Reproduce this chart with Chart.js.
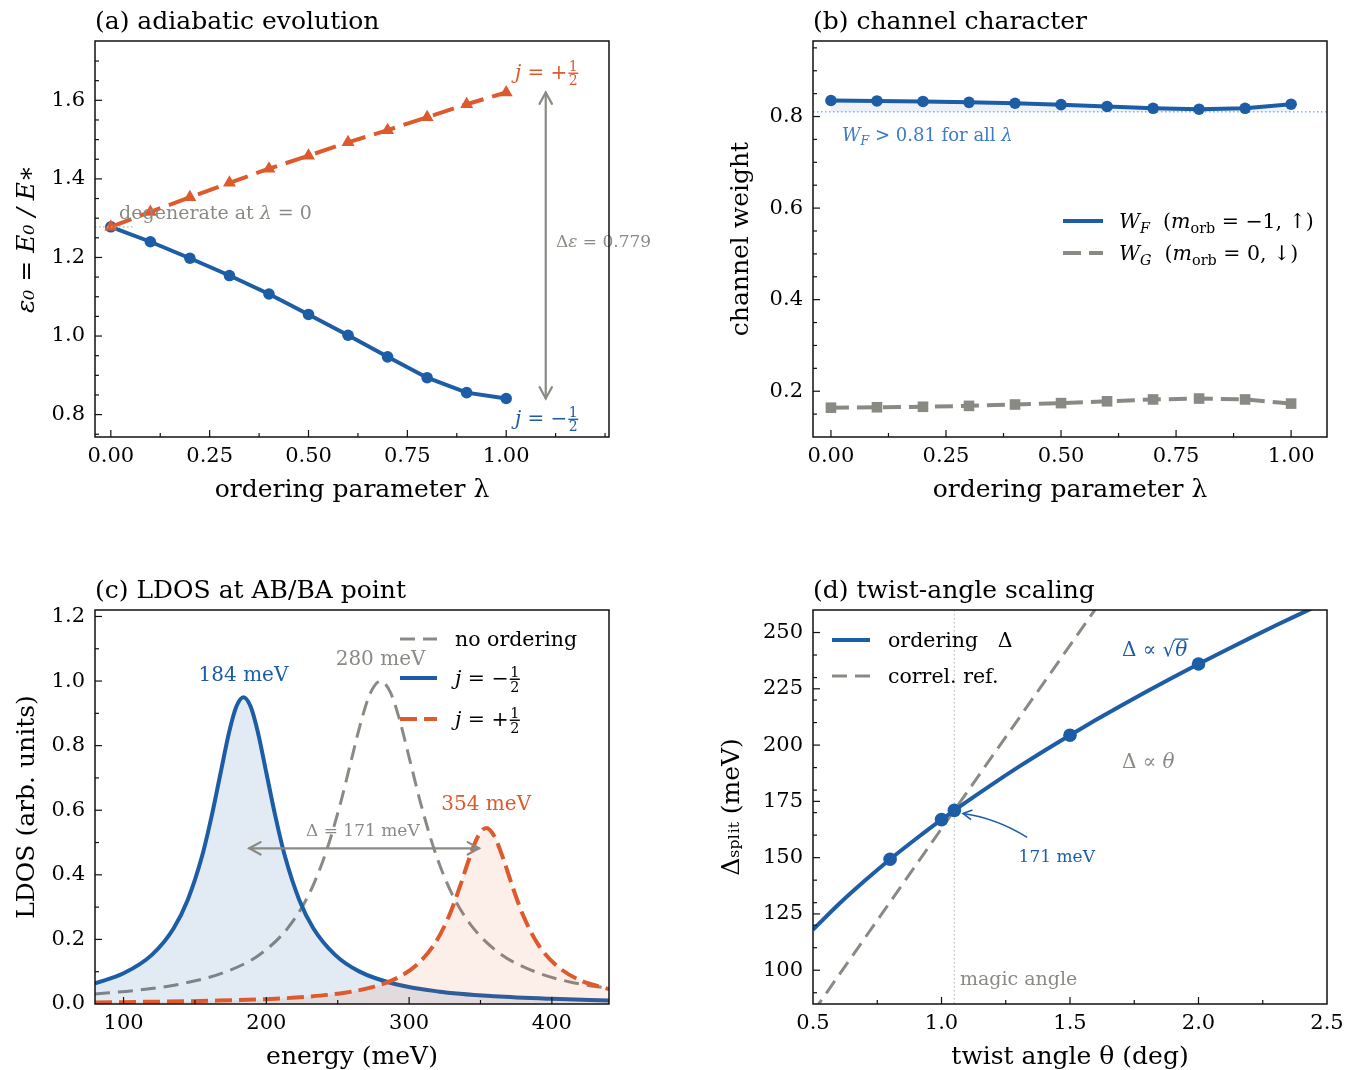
<!DOCTYPE html>
<html lang="en">
<head>
<meta charset="UTF-8">
<title>Ordering: adiabatic evolution, channel character, LDOS, twist-angle scaling</title>
<script src="https://cdn.jsdelivr.net/npm/chart.js@4"></script>
<style>
  html, body { margin: 0; padding: 0; background: #fff; }
  #fig { position: relative; width: 1358px; height: 1070px; }
  #fig canvas { position: absolute; }
</style>
</head>
<body>
<div id="fig">
  <canvas id="pa" width="679" height="535" style="left:0;top:0"></canvas>
  <canvas id="pb" width="679" height="535" style="left:679px;top:0"></canvas>
  <canvas id="pc" width="679" height="535" style="left:0;top:535px"></canvas>
  <canvas id="pd" width="679" height="535" style="left:679px;top:535px"></canvas>
</div>
<script>
const BLUE = '#1c5da6', ORANGE = '#de5a2c', GREY = '#8a8a85', LIGHTBLUE = '#3d7bc3';
const SERIF = '"DejaVu Serif", serif';

// (a) adiabatic evolution
const lam = [0, 0.1, 0.2, 0.3, 0.4, 0.5, 0.6, 0.7, 0.8, 0.9, 1.0];
const epsMinus = [1.278, 1.240, 1.198, 1.154, 1.107, 1.055, 1.002, 0.947, 0.894, 0.856, 0.841];
const epsPlus = [1.278, 1.316, 1.353, 1.390, 1.426, 1.459, 1.493, 1.524, 1.557, 1.590, 1.620];
const lamTicks = [0, 0.25, 0.5, 0.75, 1.0];
const epsTicks = [0.8, 1.0, 1.2, 1.4, 1.6];

// (b) channel character
const weightF = [0.835, 0.834, 0.833, 0.831, 0.829, 0.826, 0.822, 0.818, 0.816, 0.818, 0.827];
const weightG = [0.164, 0.165, 0.166, 0.168, 0.171, 0.174, 0.178, 0.182, 0.184, 0.182, 0.173];
const weightTicks = [0.2, 0.4, 0.6, 0.8];

// (c) LDOS at AB/BA point
const eMinus = [80, 100, 120, 135, 145, 155, 162, 168, 174, 179, 184, 189, 194, 200, 206, 213, 223, 233, 248, 265, 290, 320, 360, 400, 440];
const ldosMinus = [0.064, 0.095, 0.153, 0.234, 0.323, 0.458, 0.588, 0.716, 0.843, 0.921, 0.950, 0.921, 0.843, 0.716, 0.588, 0.458, 0.323, 0.234, 0.153, 0.101, 0.062, 0.039, 0.024, 0.016, 0.011];
const eNone = [80, 110, 140, 170, 195, 215, 230, 242, 252, 260, 267, 273, 280, 287, 293, 300, 308, 318, 330, 345, 365, 390, 415, 440];
const ldosNone = [0.031, 0.043, 0.062, 0.097, 0.152, 0.235, 0.341, 0.473, 0.623, 0.764, 0.885, 0.964, 1.0, 0.964, 0.885, 0.764, 0.623, 0.473, 0.341, 0.235, 0.152, 0.097, 0.066, 0.048];
const ePlus = [80, 120, 160, 200, 230, 255, 275, 290, 305, 318, 328, 336, 342, 348, 354, 360, 366, 372, 380, 390, 403, 420, 440];
const ldosPlus = [0.005, 0.007, 0.010, 0.015, 0.023, 0.035, 0.053, 0.077, 0.120, 0.187, 0.273, 0.369, 0.449, 0.517, 0.545, 0.517, 0.449, 0.369, 0.273, 0.187, 0.120, 0.073, 0.046];
const energyTicks = [100, 200, 300, 400];
const ldosTicks = [0, 0.2, 0.4, 0.6, 0.8, 1.0, 1.2];

// (d) twist-angle scaling
const thetaFine = [0.5, 0.6, 0.7, 0.8, 0.9, 1.0, 1.1, 1.2, 1.3, 1.4, 1.5, 1.6, 1.7, 1.8, 1.9, 2.0, 2.1, 2.2, 2.3, 2.4, 2.5];
const deltaFine = [118.0, 129.3, 139.6, 149.3, 158.3, 166.9, 175.0, 182.8, 190.3, 197.5, 204.4, 211.1, 217.6, 223.9, 230.0, 236.0, 241.8, 247.5, 253.1, 258.5, 263.9];
const thetaPts = [0.8, 1.0, 1.05, 1.5, 2.0];
const deltaPts = [149.3, 166.9, 171.0, 204.4, 236.0];
const thetaRef = [0.5, 1.0, 1.5, 2.0];
const deltaRef = [81.4, 162.9, 244.3, 325.7];
const thetaTicks = [0.5, 1.0, 1.5, 2.0, 2.5];
const deltaTicks = [100, 125, 150, 175, 200, 225, 250];

function xy(xs, ys) { return xs.map((x, i) => ({ x: x, y: ys[i] })); }
function minors(a, b, s, majors) {
  const out = [];
  for (let v = a; v <= b + 1e-9; v += s) {
    const r = +v.toFixed(4);
    if (!majors.some(m => Math.abs(m - r) < 1e-6)) out.push(r);
  }
  return out;
}

// text with italics, subscripts and stacked fractions
function rich(ctx, x, y, parts, size, color, align) {
  const font = (it, s) => (it ? 'italic ' : '') + s + 'px ' + SERIF;
  const small = size * 0.7;
  const widths = parts.map(p => {
    if (p.frac) { ctx.font = font(false, small); return Math.max(...p.frac.map(t => ctx.measureText(t).width)) + 3; }
    ctx.font = font(p.it, p.sub ? small : size);
    return ctx.measureText(p.t).width;
  });
  const total = widths.reduce((s, w) => s + w, 0);
  let cx = align === 'center' ? x - total / 2 : align === 'right' ? x - total : x;
  const base = y + size * 0.36;
  ctx.save();
  ctx.fillStyle = color;
  ctx.textBaseline = 'alphabetic';
  parts.forEach((p, i) => {
    const w = widths[i];
    if (p.frac) {
      ctx.font = font(false, small);
      ctx.textAlign = 'center';
      const bar = base - size * 0.3;
      ctx.fillText(p.frac[0], cx + w / 2, bar - 2);
      ctx.fillText(p.frac[1], cx + w / 2, bar + small * 0.72 + 2);
      ctx.fillRect(cx + 1, bar - 0.7, w - 2, 1.4);
    } else {
      ctx.font = font(p.it, p.sub ? small : size);
      ctx.textAlign = 'left';
      ctx.fillText(p.t, cx, p.sub ? base + size * 0.22 : base);
      if (p.over) ctx.fillRect(cx - 1, base - size * 0.86, w + 2, 1.3);
    }
    cx += w;
  });
  ctx.restore();
}

function arrowHead(ctx, tx, ty, fx, fy, len) {
  const a = Math.atan2(ty - fy, tx - fx);
  ctx.beginPath();
  ctx.moveTo(tx - len * Math.cos(a - 0.5), ty - len * Math.sin(a - 0.5));
  ctx.lineTo(tx, ty);
  ctx.lineTo(tx - len * Math.cos(a + 0.5), ty - len * Math.sin(a + 0.5));
  ctx.stroke();
}

function arrow(ctx, x1, y1, x2, y2, color, lw, both) {
  ctx.save();
  ctx.strokeStyle = color; ctx.lineWidth = lw; ctx.lineCap = 'round';
  ctx.beginPath(); ctx.moveTo(x1, y1); ctx.lineTo(x2, y2); ctx.stroke();
  arrowHead(ctx, x2, y2, x1, y1, 13);
  if (both) arrowHead(ctx, x1, y1, x2, y2, 13);
  ctx.restore();
}

function sample(ctx, x1, x2, y, color, lw, dash) {
  ctx.save();
  ctx.strokeStyle = color; ctx.lineWidth = lw; ctx.setLineDash(dash || []);
  ctx.beginPath(); ctx.moveTo(x1, y); ctx.lineTo(x2, y); ctx.stroke();
  ctx.restore();
}

function panelTitle(chart, text) {
  const { ctx, chartArea: a } = chart;
  ctx.save();
  ctx.font = '25px ' + SERIF; ctx.fillStyle = '#000';
  ctx.textBaseline = 'middle'; ctx.textAlign = 'left';
  ctx.fillText(text, a.left, a.top - 19);
  ctx.restore();
}

// frame with inward major and minor ticks
const framePlugin = {
  id: 'frame',
  afterDraw(chart, args, o) {
    const { ctx, chartArea: a } = chart;
    const sx = chart.scales.x, sy = chart.scales.y;
    ctx.save();
    ctx.strokeStyle = '#111'; ctx.lineWidth = 1.2;
    const seg = (x1, y1, x2, y2) => { ctx.beginPath(); ctx.moveTo(x1, y1); ctx.lineTo(x2, y2); ctx.stroke(); };
    const markX = (vals, len) => vals.forEach(v => {
      const p = sx.getPixelForValue(v);
      if (p > a.left + 1 && p < a.right - 1) seg(p, a.bottom, p, a.bottom - len);
    });
    const markY = (vals, len) => vals.forEach(v => {
      const p = sy.getPixelForValue(v);
      if (p > a.top + 1 && p < a.bottom - 1) seg(a.left, p, a.left + len, p);
    });
    markX(sx.ticks.map(t => t.value), 7);
    markX(o.minorX || [], 4);
    markY(sy.ticks.map(t => t.value), 7);
    markY(o.minorY || [], 4);
    ctx.lineWidth = 1.5;
    ctx.strokeRect(a.left, a.top, a.right - a.left, a.bottom - a.top);
    ctx.restore();
  }
};

function axis(c, dir) {
  return {
    type: 'linear', min: c.min, max: c.max,
    afterBuildTicks: s => { s.ticks = c.ticks.map(v => ({ value: v })); },
    afterFit: s => { if (dir === 'x') s.height = c.size; else s.width = c.size; },
    grid: { display: false },
    border: { display: false },
    ticks: {
      color: '#000', font: { family: SERIF, size: 21 },
      padding: dir === 'x' ? -1 : 2, maxRotation: 0, autoSkip: false,
      callback: c.fmt
    },
    title: {
      display: true, text: c.title, color: '#000',
      font: { family: SERIF, size: 25, lineHeight: 1, style: c.italic ? 'italic' : 'normal' },
      padding: dir === 'x' ? { top: 0, bottom: c.pad } : { top: c.pad, bottom: 0 }
    }
  };
}

function options(c) {
  return {
    responsive: false, animation: false, events: [],
    layout: { padding: { left: 0, top: c.top, right: c.right, bottom: 0 } },
    plugins: {
      legend: { display: false }, tooltip: { enabled: false },
      frame: { minorX: c.minorX, minorY: c.minorY }
    },
    scales: { x: axis(c.x, 'x'), y: axis(c.y, 'y') }
  };
}

const f2 = v => v.toFixed(2), f1 = v => v.toFixed(1), f0 = v => v.toFixed(0);

// (a)
new Chart(document.getElementById('pa'), {
  type: 'line',
  data: {
    datasets: [
      { data: xy(lam, epsPlus), borderColor: ORANGE, backgroundColor: ORANGE, borderWidth: 4,
        borderDash: [22, 9], pointStyle: 'triangle', pointRadius: 7.5, pointBorderWidth: 0, order: 0 },
      { data: xy(lam, epsMinus), borderColor: BLUE, backgroundColor: BLUE, borderWidth: 4,
        pointRadius: 5.8, pointBorderWidth: 0, order: 1 }
    ]
  },
  options: options({
    top: 41, right: 70,
    minorX: minors(0, 1.25, 0.125, lamTicks), minorY: minors(0.75, 1.75, 0.05, epsTicks),
    x: { min: -0.04, max: 1.26, ticks: lamTicks, fmt: f2, size: 98, pad: 32, title: 'ordering parameter λ' },
    y: { min: 0.743, max: 1.751, ticks: epsTicks, fmt: f1, size: 95, pad: 14.5, title: 'ε₀ = E₀ / E∗', italic: true }
  }),
  plugins: [framePlugin, {
    id: 'notesA',
    afterDatasetsDraw(chart) {
      const { ctx, chartArea: a } = chart;
      const X = v => chart.scales.x.getPixelForValue(v), Y = v => chart.scales.y.getPixelForValue(v);
      ctx.save();
      ctx.strokeStyle = '#b5b5b5'; ctx.lineWidth = 1.2; ctx.setLineDash([1.5, 2.5]);
      ctx.beginPath(); ctx.moveTo(a.left, Y(epsMinus[0])); ctx.lineTo(X(0.06), Y(epsMinus[0])); ctx.stroke();
      ctx.restore();
      arrow(ctx, X(1.1), Y(epsPlus[10]), X(1.1), Y(epsMinus[10]), GREY, 2.2, true);
      rich(ctx, X(1.126), Y(1.242), [{ t: 'Δ' }, { t: 'ε', it: true }, { t: ' = 0.779' }], 17, GREY, 'left');
      rich(ctx, X(1.022), Y(1.672), [{ t: 'j', it: true }, { t: ' = +' }, { frac: ['1', '2'] }], 20, ORANGE, 'left');
      rich(ctx, X(1.022), Y(0.791), [{ t: 'j', it: true }, { t: ' = −' }, { frac: ['1', '2'] }], 20, BLUE, 'left');
      rich(ctx, X(0.021), Y(1.316), [{ t: 'degenerate at ' }, { t: 'λ', it: true }, { t: ' = 0' }], 19, GREY, 'left');
      panelTitle(chart, '(a) adiabatic evolution');
    }
  }]
});

// (b)
new Chart(document.getElementById('pb'), {
  type: 'line',
  data: {
    datasets: [
      { data: xy(lam, weightF), borderColor: BLUE, backgroundColor: 'rgba(28,93,166,0.08)', pointBackgroundColor: BLUE,
        borderWidth: 4, pointRadius: 5.8, pointBorderWidth: 0, fill: { value: 0.81 }, order: 0 },
      { data: xy(lam, weightG), borderColor: GREY, backgroundColor: GREY, borderWidth: 4,
        borderDash: [18, 8], pointStyle: 'rect', pointRadius: 7.5, pointBorderWidth: 0, order: 1 }
    ]
  },
  options: options({
    top: 41, right: 31,
    minorX: minors(0, 1.0, 0.125, lamTicks), minorY: minors(0.15, 0.95, 0.05, weightTicks),
    x: { min: -0.039, max: 1.078, ticks: lamTicks, fmt: f2, size: 98, pad: 32, title: 'ordering parameter λ' },
    y: { min: 0.10, max: 0.965, ticks: weightTicks, fmt: f1, size: 134, pad: 50, title: 'channel weight' }
  }),
  plugins: [framePlugin, {
    id: 'notesB',
    beforeDatasetsDraw(chart) {
      const { ctx, chartArea: a } = chart;
      const yy = chart.scales.y.getPixelForValue(0.81);
      ctx.save();
      ctx.strokeStyle = '#6f9fd6'; ctx.lineWidth = 1.3; ctx.setLineDash([1.5, 2.5]);
      ctx.beginPath(); ctx.moveTo(a.left, yy); ctx.lineTo(a.right, yy); ctx.stroke();
      ctx.restore();
    },
    afterDatasetsDraw(chart) {
      const { ctx, chartArea: a } = chart;
      const X = v => chart.scales.x.getPixelForValue(v), Y = v => chart.scales.y.getPixelForValue(v);
      rich(ctx, X(0.024), Y(0.760), [{ t: 'W', it: true }, { t: 'F', it: true, sub: true }, { t: ' > 0.81 for all ' }, { t: 'λ', it: true }], 18, LIGHTBLUE, 'left');
      sample(ctx, a.right - 264, a.right - 224, a.top + 180, BLUE, 4);
      sample(ctx, a.right - 264, a.right - 224, a.top + 212, GREY, 4, [18, 8]);
      rich(ctx, a.right - 208, a.top + 180, [{ t: 'W', it: true }, { t: 'F', it: true, sub: true }, { t: '  (' }, { t: 'm', it: true }, { t: 'orb', sub: true }, { t: ' = −1, ↑)' }], 20.5, '#000', 'left');
      rich(ctx, a.right - 208, a.top + 212, [{ t: 'W', it: true }, { t: 'G', it: true, sub: true }, { t: '  (' }, { t: 'm', it: true }, { t: 'orb', sub: true }, { t: ' = 0, ↓)' }], 20.5, '#000', 'left');
      panelTitle(chart, '(b) channel character');
    }
  }]
});

// (c)
new Chart(document.getElementById('pc'), {
  type: 'line',
  data: {
    datasets: [
      { data: xy(eNone, ldosNone), borderColor: GREY, borderWidth: 3, borderDash: [15, 8],
        pointRadius: 0, cubicInterpolationMode: 'monotone', fill: false, order: 2 },
      { data: xy(eMinus, ldosMinus), borderColor: BLUE, backgroundColor: 'rgba(28,93,166,0.13)', borderWidth: 4,
        pointRadius: 0, cubicInterpolationMode: 'monotone', fill: 'origin', order: 1 },
      { data: xy(ePlus, ldosPlus), borderColor: ORANGE, backgroundColor: 'rgba(222,90,44,0.10)', borderWidth: 4,
        borderDash: [17, 7], pointRadius: 0, cubicInterpolationMode: 'monotone', fill: 'origin', order: 0 }
    ]
  },
  options: options({
    top: 75, right: 70,
    minorX: minors(100, 400, 50, energyTicks), minorY: minors(0.1, 1.1, 0.2, []),
    x: { min: 80, max: 440, ticks: energyTicks, fmt: f0, size: 66, pad: 0, title: 'energy (meV)' },
    y: { min: 0, max: 1.22, ticks: ldosTicks, fmt: f1, size: 95, pad: 14.5, title: 'LDOS (arb. units)' }
  }),
  plugins: [framePlugin, {
    id: 'notesC',
    afterDatasetsDraw(chart) {
      const { ctx, chartArea: a } = chart;
      const X = v => chart.scales.x.getPixelForValue(v), Y = v => chart.scales.y.getPixelForValue(v);
      rich(ctx, X(184), Y(1.022), [{ t: '184 meV' }], 20, BLUE, 'center');
      rich(ctx, X(280), Y(1.071), [{ t: '280 meV' }], 20, GREY, 'center');
      rich(ctx, X(354), Y(0.622), [{ t: '354 meV' }], 20, ORANGE, 'center');
      arrow(ctx, X(188), Y(0.482), X(349), Y(0.482), GREY, 2.2, true);
      rich(ctx, X(267.6), Y(0.538), [{ t: 'Δ = 171 meV' }], 17, GREY, 'center');
      sample(ctx, a.left + 305, a.left + 342, a.top + 29, GREY, 3, [15, 8]);
      sample(ctx, a.left + 305, a.left + 342, a.top + 68, BLUE, 4);
      sample(ctx, a.left + 305, a.left + 342, a.top + 109, ORANGE, 4, [17, 7]);
      rich(ctx, a.left + 360, a.top + 29, [{ t: 'no ordering' }], 20.5, '#000', 'left');
      rich(ctx, a.left + 360, a.top + 68, [{ t: 'j', it: true }, { t: ' = −' }, { frac: ['1', '2'] }], 20.5, '#000', 'left');
      rich(ctx, a.left + 360, a.top + 109, [{ t: 'j', it: true }, { t: ' = +' }, { frac: ['1', '2'] }], 20.5, '#000', 'left');
      panelTitle(chart, '(c) LDOS at AB/BA point');
    }
  }]
});

// (d)
new Chart(document.getElementById('pd'), {
  type: 'line',
  data: {
    datasets: [
      { data: xy(thetaRef, deltaRef), borderColor: GREY, borderWidth: 3, borderDash: [15, 8], pointRadius: 0, order: 2 },
      { data: xy(thetaFine, deltaFine), borderColor: BLUE, borderWidth: 4, pointRadius: 0,
        cubicInterpolationMode: 'monotone', order: 1 },
      { data: xy(thetaPts, deltaPts), showLine: false, backgroundColor: BLUE, borderColor: BLUE,
        pointRadius: 6.8, pointBorderWidth: 0, order: 0 }
    ]
  },
  options: options({
    top: 75, right: 31,
    minorX: minors(0.75, 2.25, 0.5, []), minorY: minors(90, 250, 10, deltaTicks),
    x: { min: 0.5, max: 2.5, ticks: thetaTicks, fmt: f1, size: 66, pad: 0, title: 'twist angle θ (deg)' },
    y: { min: 85, max: 260, ticks: deltaTicks, fmt: f0, size: 134, pad: 41, title: 'Δₛₚₗᵢₜ (meV)' }
  }),
  plugins: [framePlugin, {
    id: 'notesD',
    beforeDatasetsDraw(chart) {
      const { ctx, chartArea: a } = chart;
      const xx = chart.scales.x.getPixelForValue(1.05);
      ctx.save();
      ctx.strokeStyle = '#c2c2c2'; ctx.lineWidth = 1.2; ctx.setLineDash([1.5, 2.5]);
      ctx.beginPath(); ctx.moveTo(xx, a.top); ctx.lineTo(xx, a.bottom); ctx.stroke();
      ctx.restore();
    },
    afterDatasetsDraw(chart) {
      const { ctx, chartArea: a } = chart;
      const X = v => chart.scales.x.getPixelForValue(v), Y = v => chart.scales.y.getPixelForValue(v);
      rich(ctx, X(1.072), Y(96.3), [{ t: 'magic angle' }], 19, GREY, 'left');
      rich(ctx, X(1.702), Y(242.9), [{ t: 'Δ ∝ √' }, { t: 'θ', it: true, over: true }], 20, BLUE, 'left');
      rich(ctx, X(1.702), Y(193.1), [{ t: 'Δ ∝ ' }, { t: 'θ', it: true }], 20, GREY, 'left');
      rich(ctx, X(1.30), Y(151), [{ t: '171 meV' }], 17, BLUE, 'left');
      // curved pointer to the magic-angle point
      const sx = X(1.333), sy = Y(159), tx = X(1.084), ty = Y(169.6);
      const cx = (sx + tx) / 2 + 2, cy = (sy + ty) / 2 - 7;
      ctx.save();
      ctx.strokeStyle = BLUE; ctx.lineWidth = 1.6;
      ctx.beginPath(); ctx.moveTo(sx, sy); ctx.quadraticCurveTo(cx, cy, tx, ty); ctx.stroke();
      arrowHead(ctx, tx, ty, cx, cy, 10);
      ctx.restore();
      sample(ctx, a.left + 19, a.left + 57, a.top + 30, BLUE, 4);
      sample(ctx, a.left + 19, a.left + 57, a.top + 66, GREY, 3, [15, 8]);
      rich(ctx, a.left + 75, a.top + 30, [{ t: 'ordering   Δ' }], 20.5, '#000', 'left');
      rich(ctx, a.left + 75, a.top + 66, [{ t: 'correl. ref.' }], 20.5, '#000', 'left');
      panelTitle(chart, '(d) twist-angle scaling');
    }
  }]
});
</script>
</body>
</html>
